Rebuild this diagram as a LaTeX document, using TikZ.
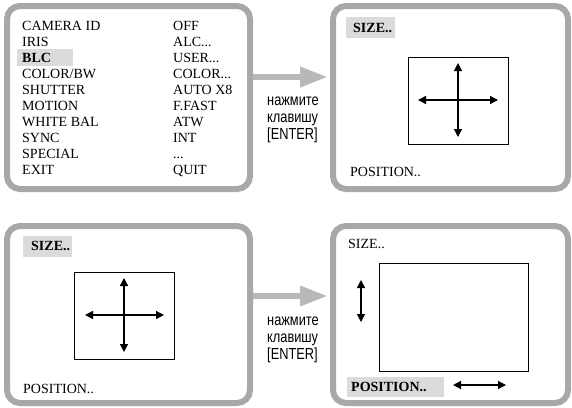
\documentclass[tikz,border=0pt]{standalone}
\usepackage{fontspec}
\setmainfont{Liberation Serif}
\newfontfamily\rusfont[FakeStretch=0.8]{Liberation Sans}
\usetikzlibrary{arrows.meta}
\tikzset{
  frame/.style={draw=black!34, line width=6pt, rounded corners=13pt, inner sep=0pt, outer sep=0pt},
  menu/.style={anchor=base west, inner sep=0pt, font=\fontsize{14}{16}\selectfont},
  menub/.style={menu, font=\fontsize{14}{16}\selectfont\bfseries},
  hl/.style={fill=black!14, draw=none},
  win/.style={draw=black, line width=0.9pt, inner sep=0pt},
  dbl/.style={line width=1.3pt, {Triangle[length=8pt,width=8pt]}-{Triangle[length=8pt,width=8pt]}},
  bigarrow/.style={draw=black!28, line width=6.5pt, -{Triangle[length=28pt,width=19pt]}},
  hint/.style={anchor=west, inner sep=0pt, align=left, font=\rusfont\fontsize{16}{17}\selectfont},
}
\begin{document}
\begin{tikzpicture}[x=1pt,y=-1pt]
\useasboundingbox (0,0) rectangle (572,407);
% frames
\node[frame, minimum width=243pt, minimum height=183pt] (p1) at (128.5,97.5) {};
\node[frame, minimum width=235pt, minimum height=183pt] (p2) at (450.5,97.5) {};
\node[frame, minimum width=243pt, minimum height=177pt] (p3) at (128.5,314.5) {};
\node[frame, minimum width=235pt, minimum height=177pt] (p4) at (450.5,314.5) {};
% big arrows
\coordinate (a1s) at (253,77); \coordinate (a1e) at (328,77);
\coordinate (a2s) at (253,296); \coordinate (a2e) at (328,296);
\draw[bigarrow] (a1s) -- (a1e);
\draw[bigarrow] (a2s) -- (a2e);
\node[hint] (h1) at (267,120) {нажмите\\клавишу\\{}[ENTER]};
\node[hint] (h2) at (267,340) {нажмите\\клавишу\\{}[ENTER]};
% panel 1 menu
\fill[hl] (17,49) rectangle (73,66);
\node[menu] (l0) at (22,30) {CAMERA ID};
\node[menu] (l1) at (22,46) {IRIS};
\node[menub] (l2) at (22,62) {BLC};
\node[menu] (l3) at (22,78) {COLOR/BW};
\node[menu] (l4) at (22,94) {SHUTTER};
\node[menu] (l5) at (22,110) {MOTION};
\node[menu] (l6) at (22,126) {WHITE BAL};
\node[menu] (l7) at (22,142) {SYNC};
\node[menu] (l8) at (22,158) {SPECIAL};
\node[menu] (l9) at (22,174) {EXIT};
\node[menu] (r0) at (173,30) {OFF};
\node[menu] (r1) at (173,46) {ALC...};
\node[menu] (r2) at (173,62) {USER...};
\node[menu] (r3) at (173,78) {COLOR...};
\node[menu] (r4) at (173,94) {AUTO X8};
\node[menu] (r5) at (173,110) {F.FAST};
\node[menu] (r6) at (173,126) {ATW};
\node[menu] (r7) at (173,142) {INT};
\node[menu] (r8) at (173,158) {...};
\node[menu] (r9) at (173,174) {QUIT};
% panel 2
\fill[hl] (346,17) rectangle (395,38);
\node[menub] (s2) at (353,32.5) {SIZE..};
\node[menu] (q2) at (350,176.5) {POSITION..};
\node[win, minimum width=100pt, minimum height=87pt] (w2) at (458,100.5) {};
\coordinate (w2t) at (458,63); \coordinate (w2b) at (458,137);
\coordinate (w2l) at (418,100); \coordinate (w2r) at (498,100);
\draw[dbl] (w2t) -- (w2b);
\draw[dbl] (w2l) -- (w2r);
% panel 3
\fill[hl] (23,236) rectangle (72,257);
\node[menub] (s3) at (31,250.5) {SIZE..};
\node[menu] (q3) at (23,393.5) {POSITION..};
\node[win, minimum width=100pt, minimum height=87pt] (w3) at (124,315.5) {};
\coordinate (w3t) at (124,278); \coordinate (w3b) at (124,352);
\coordinate (w3l) at (85,315); \coordinate (w3r) at (164,315);
\draw[dbl] (w3t) -- (w3b);
\draw[dbl] (w3l) -- (w3r);
% panel 4
\node[menu] (s4) at (348,248.5) {SIZE..};
\fill[hl] (347,377) rectangle (444,397);
\node[menub] (q4) at (351,391.5) {POSITION..};
\node[win, minimum width=149pt, minimum height=108pt] (w4) at (453.5,317) {};
\coordinate (v4t) at (361,280); \coordinate (v4b) at (361,322);
\coordinate (h4l) at (453,385); \coordinate (h4r) at (506,385);
\draw[dbl] (v4t) -- (v4b);
\draw[dbl] (h4l) -- (h4r);
\end{tikzpicture}
\end{document}
